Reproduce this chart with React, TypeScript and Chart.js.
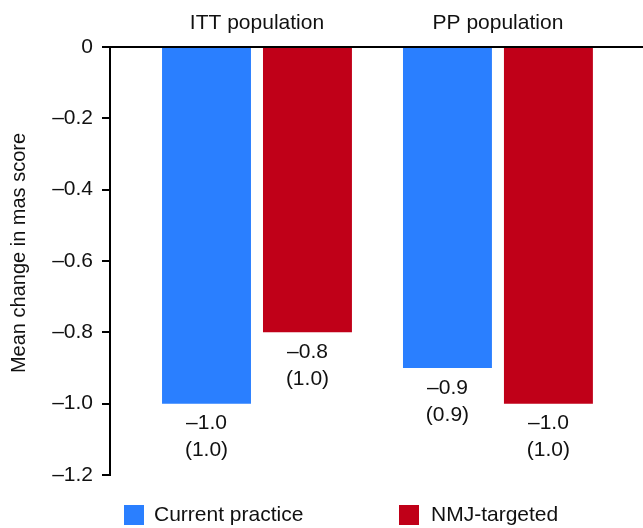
import { useEffect, useRef } from "react";
import { Chart, registerables } from "chart.js";

Chart.register(...registerables);

const categories = ["ITT population", "PP population"];
const seriesNames = ["Current practice", "NMJ-targeted"];
const currentPractice = [-1.0, -0.9];
const nmjTargeted = [-0.8, -1.0];
const currentSD = [1.0, 0.9];
const nmjSD = [1.0, 1.0];
const yTicks = [0, -0.2, -0.4, -0.6, -0.8, -1.0, -1.2];
const yTitle = "Mean change in mas score";
const colors = ["#2A7FFF", "#C00018"];

const FONT = "'Liberation Sans', Arial, sans-serif";
const TEXT = "#111111";

const fmt = (v: number) => {
  const r = Math.round(v * 10) / 10;
  if (r === 0) return "0";
  return (r < 0 ? "\u2013" : "") + Math.abs(r).toFixed(1);
};

const valueLabels = {
  id: "valueLabels",
  afterDatasetsDraw(chart: any) {
    const ctx = chart.ctx;
    ctx.save();
    ctx.font = `21px ${FONT}`;
    ctx.fillStyle = TEXT;
    ctx.textAlign = "center";
    ctx.textBaseline = "middle";
    chart.data.datasets.forEach((ds: any, di: number) => {
      const meta = chart.getDatasetMeta(di);
      meta.data.forEach((bar: any, i: number) => {
        const v = ds.data[i].y;
        const sd = ds.sd[i];
        ctx.fillText(fmt(v), bar.x, bar.y + 20);
        ctx.fillText(`(${sd.toFixed(1)})`, bar.x, bar.y + 47);
      });
    });
    ctx.restore();
  },
};

const axisTitle = {
  id: "axisTitle",
  afterDraw(chart: any) {
    const ctx = chart.ctx;
    ctx.save();
    ctx.translate(19, 253);
    ctx.rotate(-Math.PI / 2);
    ctx.font = `20px ${FONT}`;
    ctx.fillStyle = TEXT;
    ctx.textAlign = "center";
    ctx.textBaseline = "middle";
    ctx.fillText(yTitle, 0, 0);
    ctx.restore();
  },
};

const customLegend = {
  id: "customLegend",
  afterDraw(chart: any) {
    const ctx = chart.ctx;
    const items = [
      { box: 124, text: 154 },
      { box: 399, text: 431 },
    ];
    ctx.save();
    ctx.font = `21px ${FONT}`;
    ctx.textBaseline = "middle";
    ctx.textAlign = "left";
    chart.data.datasets.forEach((ds: any, di: number) => {
      const it = items[di];
      ctx.fillStyle = ds.backgroundColor;
      ctx.fillRect(it.box, 505, 20, 20);
      ctx.fillStyle = TEXT;
      ctx.fillText(ds.label, it.text, 515);
    });
    ctx.restore();
  },
};

export default function App() {
  const ref = useRef<HTMLCanvasElement>(null);
  useEffect(() => {
    if (!ref.current) return;
    Chart.defaults.font.family = FONT;
    Chart.defaults.color = TEXT;
    const chart = new Chart(ref.current, {
      type: "bar",
      data: {
        datasets: [
          {
            label: seriesNames[0],
            data: categories.map((_, i) => ({ x: i, y: currentPractice[i] })),
            backgroundColor: colors[0],
            sd: currentSD,
          } as any,
          {
            label: seriesNames[1],
            data: categories.map((_, i) => ({ x: i, y: nmjTargeted[i] })),
            backgroundColor: colors[1],
            sd: nmjSD,
          } as any,
        ],
      },
      options: {
        responsive: false,
        animation: false,
        events: [],
        layout: { padding: { top: 0, left: 0, right: 0, bottom: 53 } },
        datasets: {
          bar: { categoryPercentage: 0.838, barPercentage: 0.881 },
        },
        plugins: {
          legend: { display: false },
          tooltip: { enabled: false },
        },
        scales: {
          x: {
            type: "linear",
            position: "top",
            offset: false,
            min: -0.61,
            max: 1.602,
            afterBuildTicks: (s: any) => {
              s.ticks = categories.map((_, i) => ({ value: i }));
            },
            afterFit: (s: any) => {
              s.height = 47;
            },
            ticks: {
              font: { size: 21 },
              color: TEXT,
              padding: 11,
              autoSkip: false,
              maxRotation: 0,
              callback: (v: any) => categories[v] ?? "",
            },
            grid: { display: true, offset: false, drawOnChartArea: false, drawTicks: false },
            border: { display: true, color: "#000", width: 2 },
          },
          y: {
            min: -1.2,
            max: 0,
            afterBuildTicks: (s: any) => {
              s.ticks = yTicks.map((v) => ({ value: v }));
            },
            afterFit: (s: any) => {
              s.width = 110;
            },
            ticks: {
              font: { size: 21 },
              color: TEXT,
              padding: 9,
              callback: (v: any) => fmt(Number(v)),
            },
            grid: {
              drawOnChartArea: false,
              drawTicks: true,
              tickLength: 8,
              color: "#000",
              lineWidth: 2,
            },
            border: { display: true, color: "#000", width: 2 },
            title: { display: false },
          },
        },
      },
      plugins: [valueLabels, axisTitle, customLegend],
    } as any);
    return () => chart.destroy();
  }, []);
  return (
    <div style={{ position: "absolute", left: 0, top: 0, width: 643, height: 528 }}>
      <canvas ref={ref} width={643} height={528} />
    </div>
  );
}
